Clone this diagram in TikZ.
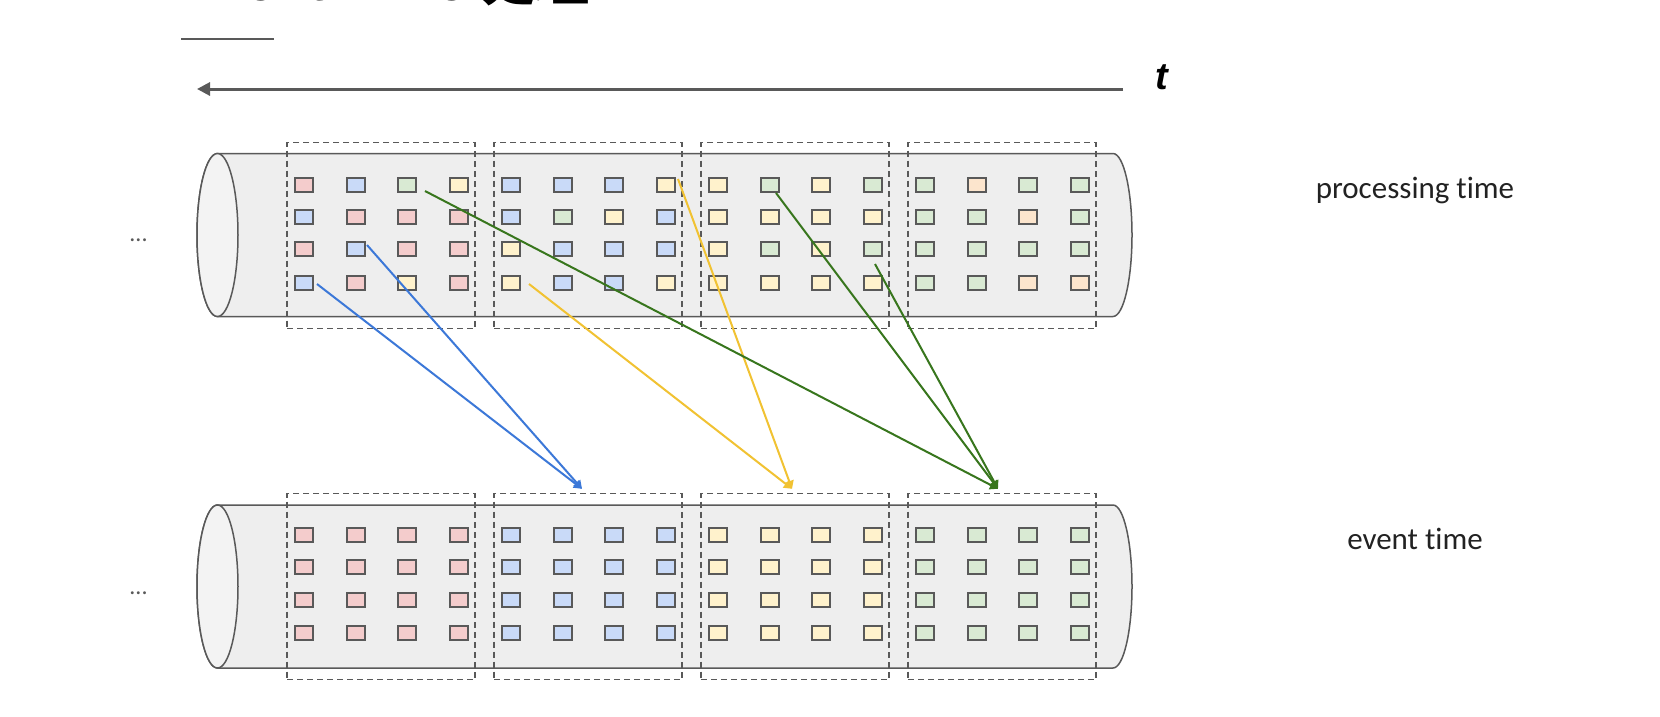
\documentclass[tikz,border=0pt]{standalone}
\usepackage{fontspec}
\setmainfont{Carlito}[Ligatures=NoCommon]
\newfontfamily\arialfont{Liberation Sans}
\newfontfamily\cjk{Noto Sans CJK SC}
\usetikzlibrary{arrows.meta,calc}
\definecolor{cR}{HTML}{F4CCCC}
\definecolor{cB}{HTML}{C9DAF8}
\definecolor{cG}{HTML}{D9EAD3}
\definecolor{cY}{HTML}{FFF2CC}
\definecolor{cO}{HTML}{FCE5CD}
\definecolor{edge}{HTML}{595959}
\definecolor{pipefill}{HTML}{EEEEEE}
\definecolor{pipeend}{HTML}{F3F3F3}
\definecolor{txt}{HTML}{222222}
\definecolor{lblue}{HTML}{3C78D8}
\definecolor{lyellow}{HTML}{F1C232}
\definecolor{lgreen}{HTML}{38761D}
\newcommand\sqrow[5]{%
  \foreach \sqc [count=\sqi] in {#5} {%
    \pgfmathsetmacro\sqx{287+207*(#2-1)+{17,69,120,172}[\sqi-1]}%
    \node[sq, fill=c\sqc] (#1-#2-#3-\sqi) at (\sqx,#4) {};
  }}
\newcommand\pipeshape[1]{%
  \filldraw[pipe] (217.5,#1-81.5) -- (1113,#1-81.5)
    arc[start angle=90,end angle=-90,x radius=19pt,y radius=81.5pt]
    -- (217.5,#1+81.5)
    arc[start angle=270,end angle=90,x radius=20.5pt,y radius=81.5pt] -- cycle;
  \filldraw[draw=edge,line width=1.5pt,fill=pipeend] (217.5,#1) ellipse[x radius=20.5pt,y radius=81.5pt];}
\begin{document}
\begin{tikzpicture}[x=1pt,y=-1pt,
  sq/.style={draw=edge, line width=2.2pt, minimum width=17.3pt, minimum height=14.7pt, inner sep=0pt, outer sep=0pt},
  seg/.style={draw=edge, line width=1.4pt, dash pattern=on 6pt off 4pt, minimum width=188pt, minimum height=186pt, inner sep=0pt},
  flow/.style={line width=2pt, -{Triangle[length=8pt,width=9pt]}},
  lbl/.style={font=\fontsize{31}{36}\selectfont, text=txt, anchor=base, inner sep=0pt},
  dots/.style={font=\fontsize{24}{28}\selectfont, text=edge, inner sep=0pt},
  pipe/.style={draw=edge, line width=1.5pt, fill=pipefill},
]
\fill[white] (0,0) rectangle (1660,716);
\useasboundingbox (0,0) rectangle (1660,716);

% title (cut off at the top, as in the reference)
\node[anchor=base west, inner sep=0pt, text=black, font=\fontsize{54}{60}\selectfont\arialfont\bfseries] (title) at (179,0) {Event Time {\cjk\bfseries 处理}};
\coordinate (ulA) at (181,39);
\coordinate (ulB) at (274,39);
\draw[edge, line width=2pt] (ulA) -- (ulB);

% time axis
\coordinate (axR) at (1123,89);
\coordinate (axL) at (197,89);
\draw[edge, line width=3pt, -{Triangle[length=13pt,width=13pt]}] (axR) -- (axL);
\node[font=\fontsize{38}{44}\selectfont\arialfont\bfseries\itshape, inner sep=0pt] (t) at (1162,77) {t};

% pipes
\pipeshape{235}
\pipeshape{586.5}

% segment boxes
\foreach \b in {1,...,4} {
  \node[seg] (pb\b) at (381+207*\b-207,235.5) {};
  \node[seg] (eb\b) at (381+207*\b-207,586.5) {};
}

% processing time squares
\sqrow{p}{1}{1}{185}{R,B,G,Y}
\sqrow{p}{1}{2}{217}{B,R,R,R}
\sqrow{p}{1}{3}{249}{R,B,R,R}
\sqrow{p}{1}{4}{283}{B,R,Y,R}
\sqrow{p}{2}{1}{185}{B,B,B,Y}
\sqrow{p}{2}{2}{217}{B,G,Y,B}
\sqrow{p}{2}{3}{249}{Y,B,B,B}
\sqrow{p}{2}{4}{283}{Y,B,B,Y}
\sqrow{p}{3}{1}{185}{Y,G,Y,G}
\sqrow{p}{3}{2}{217}{Y,Y,Y,Y}
\sqrow{p}{3}{3}{249}{Y,G,Y,G}
\sqrow{p}{3}{4}{283}{Y,Y,Y,Y}
\sqrow{p}{4}{1}{185}{G,O,G,G}
\sqrow{p}{4}{2}{217}{G,G,O,G}
\sqrow{p}{4}{3}{249}{G,G,G,G}
\sqrow{p}{4}{4}{283}{G,G,O,O}

% event time squares
\foreach \b/\c in {1/R,2/B,3/Y,4/G} {
  \foreach \r/\y in {1/535,2/567,3/600,4/633} {
    \sqrow{e}{\b}{\r}{\y}{\c,\c,\c,\c}
  }
}

% labels
\node[lbl] (lp) at (1415,198) {processing time};
\node[lbl] (le) at (1415,549) {event time};
\node[dots] (dp) at (138.5,240) {...};
\node[dots] (de) at (138.5,593) {...};

% targets
\coordinate (tb) at ($(eb2.north)+(-6,-4)$);
\coordinate (ty) at ($(eb3.north)+(-3,-4)$);
\coordinate (tg) at ($(eb4.north)+(-4,-4)$);

% connectors
\draw[flow, lblue] ($(p-1-4-1)+(13,1)$) -- (tb);
\draw[flow, lblue] ($(p-1-3-2)+(11,-4)$) -- (tb);
\draw[flow, lyellow] ($(p-2-4-1)+(18,1)$) -- (ty);
\draw[flow, lyellow] ($(p-2-1-4)+(12,-6)$) -- (ty);
\draw[flow, lgreen] ($(p-1-1-3)+(18,6)$) -- (tg);
\draw[flow, lgreen] ($(p-3-1-2)+(6,8)$) -- (tg);
\draw[flow, lgreen] ($(p-3-3-4)+(2,15)$) -- (tg);
\end{tikzpicture}
\end{document}
